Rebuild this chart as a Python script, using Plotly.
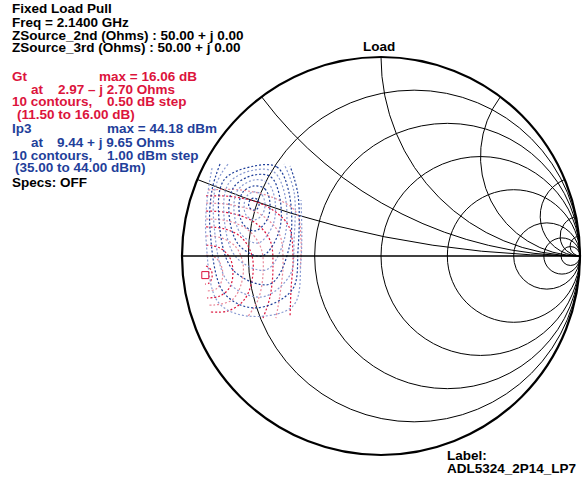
import numpy as np
import plotly.graph_objects as go

Z0 = 50.0

# Gt contours (reflection coefficient), 16.0 dB inner -> 11.5 dB outer
gt_levels = [16.0, 15.5, 15.0, 14.5, 14.0, 13.5, 13.0, 12.5, 12.0, 11.5]
gt_re = [
    [-0.879, -0.854, -0.849, -0.864, -0.884],
    [-0.879, -0.829, -0.799, -0.799, -0.829, -0.879],
    [-0.879, -0.809, -0.759, -0.744, -0.759, -0.809, -0.874],
    [-0.879, -0.799, -0.729, -0.693, -0.704, -0.749, -0.834, -0.874],
    [-0.879, -0.784, -0.698, -0.648, -0.648, -0.688, -0.769, -0.859],
    [-0.879, -0.769, -0.668, -0.603, -0.593, -0.618, -0.668],
    [-0.879, -0.759, -0.638, -0.558, -0.543, -0.558, -0.593],
    [-0.879, -0.744, -0.608, -0.513, -0.492, -0.508, -0.528],
    [-0.879, -0.729, -0.578, -0.467, -0.442, -0.452, -0.457],
    [-0.869, -0.709, -0.548, -0.427, -0.402, -0.407],
]
gt_im = [
    [-0.050, -0.070, -0.106, -0.136, -0.141],
    [0.005, -0.010, -0.060, -0.121, -0.166, -0.176],
    [0.055, 0.040, -0.010, -0.080, -0.156, -0.201, -0.211],
    [0.101, 0.090, 0.045, -0.040, -0.146, -0.221, -0.246, -0.246],
    [0.146, 0.136, 0.090, 0.000, -0.121, -0.221, -0.276, -0.281],
    [0.186, 0.176, 0.131, 0.040, -0.095, -0.221, -0.302],
    [0.226, 0.216, 0.171, 0.080, -0.060, -0.206, -0.312],
    [0.266, 0.256, 0.211, 0.116, -0.030, -0.196, -0.312],
    [0.302, 0.296, 0.251, 0.156, 0.005, -0.166, -0.302],
    [0.332, 0.332, 0.296, 0.221, 0.080, -0.070],
]

# Ip3 contours, 44 dBm inner -> 35 dBm outer
ip3_levels = [44, 43, 42, 41, 40, 39, 38, 37, 36, 35]
ip3_re = [
    [-0.638, -0.618, -0.613, -0.623, -0.643, -0.663, -0.663, -0.653, -0.638],
    [-0.638, -0.598, -0.583, -0.598, -0.638, -0.678, -0.688, -0.673, -0.638],
    [-0.638, -0.583, -0.558, -0.573, -0.633, -0.693, -0.714, -0.693, -0.638],
    [-0.638, -0.568, -0.533, -0.543, -0.618, -0.704, -0.739, -0.719, -0.638],
    [-0.638, -0.553, -0.508, -0.513, -0.598, -0.714, -0.764, -0.739, -0.638],
    [-0.638, -0.538, -0.482, -0.487, -0.578, -0.729, -0.789, -0.764, -0.638],
    [-0.638, -0.523, -0.462, -0.462, -0.558, -0.744, -0.814, -0.789, -0.638],
    [-0.769, -0.829, -0.839, -0.769, -0.598, -0.457, -0.437, -0.437, -0.487],
    [-0.809, -0.849, -0.859, -0.789, -0.633, -0.447, -0.417, -0.417, -0.457],
    [-0.849, -0.874, -0.879, -0.819, -0.668, -0.442, -0.402, -0.402],
]
ip3_im = [
    [0.291, 0.281, 0.256, 0.236, 0.231, 0.246, 0.271, 0.286, 0.291],
    [0.322, 0.307, 0.256, 0.206, 0.181, 0.206, 0.256, 0.302, 0.322],
    [0.352, 0.337, 0.266, 0.181, 0.126, 0.161, 0.251, 0.322, 0.352],
    [0.382, 0.367, 0.281, 0.156, 0.065, 0.111, 0.231, 0.332, 0.382],
    [0.407, 0.397, 0.291, 0.121, 0.000, 0.055, 0.216, 0.347, 0.407],
    [0.432, 0.422, 0.302, 0.080, -0.070, -0.005, 0.201, 0.367, 0.432],
    [0.452, 0.447, 0.317, 0.040, -0.141, -0.070, 0.181, 0.382, 0.452],
    [0.462, 0.357, 0.156, -0.131, -0.206, -0.095, 0.080, 0.322, 0.462],
    [0.462, 0.332, 0.131, -0.186, -0.261, -0.171, 0.030, 0.307, 0.452],
    [0.442, 0.281, 0.080, -0.231, -0.302, -0.251, -0.020, 0.281],
]

# maxima in Ohms
gt_max_ohms = (2.97, -2.70)
ip3_max_ohms = (9.44, 9.65)

grid_vals = [0.2, 0.5, 1, 2, 5, 10, 20]

RED = "#dc143c"
BLUE = "#1f3f9a"

W, H = 588, 477


def to_z(re, im):
    g = np.array(re) + 1j * np.array(im)
    z = (1 + g) / (1 - g)
    return z.real, z.imag


fig = go.Figure()

for i, lvl in enumerate(gt_levels):
    zr, zi = to_z(gt_re[i], gt_im[i])
    fig.add_trace(go.Scattersmith(
        real=zr, imag=zi, mode="lines", name=f"Gt {lvl}",
        line=dict(color=RED if i % 2 == 0 else "#e9899a", width=1.2, dash="2px,2px", shape="spline"),
    ))

for i, lvl in enumerate(ip3_levels):
    zr, zi = to_z(ip3_re[i], ip3_im[i])
    fig.add_trace(go.Scattersmith(
        real=zr, imag=zi, mode="lines", name=f"Ip3 {lvl}",
        line=dict(color=BLUE if i % 2 == 0 else "#8a9bd2", width=1.2, dash="2px,2px", shape="spline"),
    ))

fig.add_trace(go.Scattersmith(
    real=[gt_max_ohms[0] / Z0], imag=[gt_max_ohms[1] / Z0], mode="markers",
    marker=dict(symbol="square-open", size=7, color=RED, line=dict(width=1)),
))

axis_style = dict(
    tickvals=grid_vals, showticklabels=False, ticks="",
    gridcolor="black", gridwidth=1.2, showline=True, linecolor="black",
)

fig.update_layout(
    width=W, height=H,
    margin=dict(l=0, r=0, t=0, b=0),
    paper_bgcolor="white",
    showlegend=False,
    font=dict(family="Liberation Sans, Arial, sans-serif", size=13, color="black"),
    smith=dict(
        domain=dict(x=[182 / W, 580 / W], y=[22 / H, 420 / H]),
        bgcolor="white",
        realaxis=dict(axis_style, linewidth=1.5),
        imaginaryaxis=dict(axis_style, linewidth=2.2),
    ),
)


def pos(x, y):
    # pixel position in the picture -> paper coords
    return (x - 1.5) / W, 1 - y / H


# (x px, y px, text, color)
labels = [
    (12, 9, "Fixed Load Pull", "black"),
    (12, 22, "Freq = 2.1400 GHz", "black"),
    (12, 35, "ZSource_2nd (Ohms) : 50.00 + j 0.00", "black"),
    (12, 48, "ZSource_3rd (Ohms) : 50.00 + j 0.00", "black"),
    (12, 76, "Gt", RED),
    (99, 76, "max = 16.06 dB", RED),
    (31, 89, "at", RED),
    (58, 89, "2.97 \u2013 j 2.70 Ohms", RED),
    (12, 102, "10 contours,", RED),
    (107, 102, "0.50 dB step", RED),
    (17, 115, "(11.50 to 16.00 dB)", RED),
    (12, 128, "Ip3", BLUE),
    (107, 128, "max = 44.18 dBm", BLUE),
    (31, 142, "at", BLUE),
    (57, 142, "9.44 + j 9.65 Ohms", BLUE),
    (12, 155, "10 contours,", BLUE),
    (107, 155, "1.00 dBm step", BLUE),
    (15, 168, "(35.00 to 44.00 dBm)", BLUE),
    (12, 182, "Specs: OFF", "black"),
    (447, 455, "Label:", "black"),
    (447, 468, "ADL5324_2P14_LP7", "black"),
]
for x, y, t, c in labels:
    px, py = pos(x, y)
    fig.add_annotation(
        x=px, y=py, xref="paper", yref="paper",
        xanchor="left", yanchor="middle", text=t, showarrow=False, borderpad=0,
        font=dict(size=13.5, color=c, weight="bold"),
    )

px, py = pos(380, 46)
fig.add_annotation(
    x=px, y=py, xref="paper", yref="paper",
    xanchor="center", yanchor="middle", text="Load", showarrow=False, borderpad=0,
    font=dict(size=13.5, color="black", weight="bold"),
)

# drop the default body margin so the figure fills the window
fig.write_html(
    "out.html",
    config={"displayModeBar": False},
    post_script="document.body.style.margin = '0';",
)
